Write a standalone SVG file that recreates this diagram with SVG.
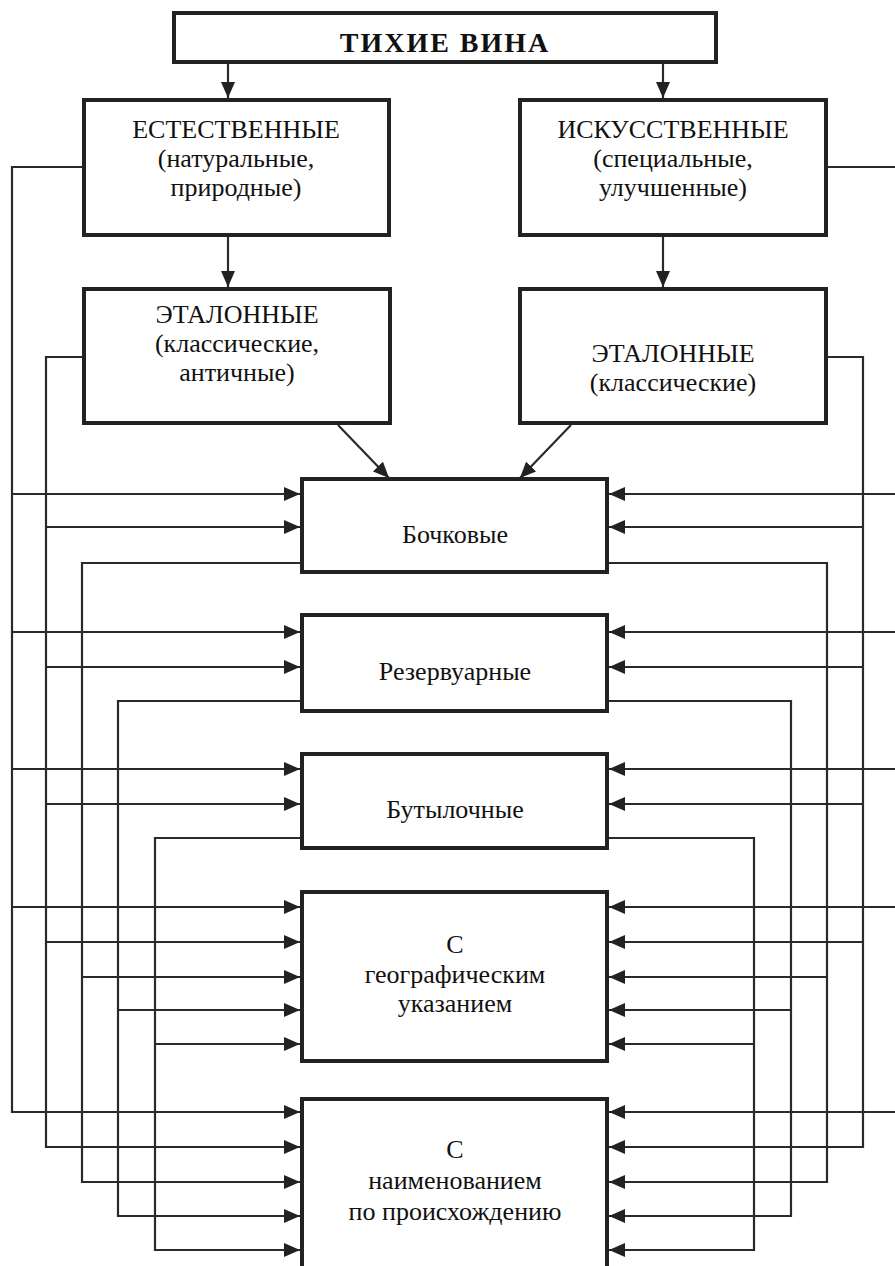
<svg xmlns="http://www.w3.org/2000/svg" width="895" height="1266" viewBox="0 0 895 1266">
<style>
.box{fill:#fff;stroke:#222;stroke-width:4}
.ln{fill:none;stroke:#2a2a2a;stroke-width:2.2}
.t{font-family:"Liberation Serif","DejaVu Serif",serif;font-size:26px;fill:#111;text-anchor:middle}
.title{font-family:"Liberation Serif","DejaVu Serif",serif;font-size:28px;font-weight:bold;fill:#111;text-anchor:middle;letter-spacing:2px}
</style>
<defs>
<marker id="ah" markerUnits="userSpaceOnUse" markerWidth="16" markerHeight="14" refX="16" refY="7" orient="auto">
<path d="M0,0 L16,7 L0,14 z" fill="#222"/>
</marker>
</defs>
<rect width="895" height="1266" fill="#fff"/>
<g id="connectors" class="ln" marker-end="url(#ah)">
<line x1="228" y1="62" x2="228" y2="98"/>
<line x1="663" y1="62" x2="663" y2="98"/>
<line x1="228" y1="237" x2="228" y2="287"/>
<line x1="663" y1="237" x2="663" y2="287"/>
<line x1="338" y1="425" x2="389" y2="478"/>
<line x1="571" y1="425" x2="520" y2="478"/>
<path d="M82,167 H12 V1112 H300"/>
<path d="M84,357 H46 V1147 H300"/>
<path d="M302,563 H82 V1182 H300"/>
<path d="M302,701 H118 V1216 H300"/>
<path d="M302,838 H155 V1250 H300"/>
<line x1="12" y1="494" x2="300" y2="494"/>
<line x1="12" y1="632" x2="300" y2="632"/>
<line x1="12" y1="769" x2="300" y2="769"/>
<line x1="12" y1="907" x2="300" y2="907"/>
<line x1="46" y1="527" x2="300" y2="527"/>
<line x1="46" y1="667" x2="300" y2="667"/>
<line x1="46" y1="804" x2="300" y2="804"/>
<line x1="46" y1="942" x2="300" y2="942"/>
<line x1="82" y1="977" x2="300" y2="977"/>
<line x1="118" y1="1010" x2="300" y2="1010"/>
<line x1="155" y1="1044" x2="300" y2="1044"/>
<path d="M826,167 H898 V1112 H609"/>
<path d="M826,357 H863 V1147 H609"/>
<path d="M607,563 H827 V1182 H609"/>
<path d="M607,701 H791 V1216 H609"/>
<path d="M607,838 H754 V1250 H609"/>
<line x1="898" y1="494" x2="609" y2="494"/>
<line x1="898" y1="632" x2="609" y2="632"/>
<line x1="898" y1="769" x2="609" y2="769"/>
<line x1="898" y1="907" x2="609" y2="907"/>
<line x1="863" y1="527" x2="609" y2="527"/>
<line x1="863" y1="667" x2="609" y2="667"/>
<line x1="863" y1="804" x2="609" y2="804"/>
<line x1="863" y1="942" x2="609" y2="942"/>
<line x1="827" y1="977" x2="609" y2="977"/>
<line x1="791" y1="1010" x2="609" y2="1010"/>
<line x1="754" y1="1044" x2="609" y2="1044"/>
</g>
<g id="n-title"><rect class="box" x="174" y="13" width="542" height="49"/><text class="title" x="445" y="52">ТИХИЕ ВИНА</text></g>
<g id="n-natural"><rect class="box" x="84" y="100" width="305" height="135"/>
<text class="t" x="236" y="138">ЕСТЕСТВЕННЫЕ</text><text class="t" x="236" y="167">(натуральные,</text><text class="t" x="236" y="196">природные)</text></g>
<g id="n-artificial"><rect class="box" x="520" y="100" width="306" height="135"/>
<text class="t" x="673" y="138">ИСКУССТВЕННЫЕ</text><text class="t" x="673" y="167">(специальные,</text><text class="t" x="673" y="196">улучшенные)</text></g>
<g id="n-etalon-left"><rect class="box" x="84" y="289" width="306" height="134"/>
<text class="t" x="237" y="323">ЭТАЛОННЫЕ</text><text class="t" x="237" y="352">(классические,</text><text class="t" x="237" y="381">античные)</text></g>
<g id="n-etalon-right"><rect class="box" x="520" y="289" width="306" height="134"/>
<text class="t" x="673" y="362">ЭТАЛОННЫЕ</text><text class="t" x="673" y="391">(классические)</text></g>
<g id="n-barrel"><rect class="box" x="302" y="479" width="305" height="93"/><text class="t" x="455" y="543">Бочковые</text></g>
<g id="n-reservoir"><rect class="box" x="302" y="615" width="305" height="96"/><text class="t" x="455" y="680">Резервуарные</text></g>
<g id="n-bottle"><rect class="box" x="302" y="754" width="305" height="94"/><text class="t" x="455" y="818">Бутылочные</text></g>
<g id="n-geo"><rect class="box" x="302" y="892" width="305" height="169"/>
<text class="t" x="455" y="953">С</text><text class="t" x="455" y="983">географическим</text><text class="t" x="455" y="1012">указанием</text></g>
<g id="n-origin"><rect class="box" x="302" y="1099" width="305" height="200"/>
<text class="t" x="455" y="1158">С</text><text class="t" x="455" y="1189">наименованием</text><text class="t" x="455" y="1220">по происхождению</text></g>
</svg>
